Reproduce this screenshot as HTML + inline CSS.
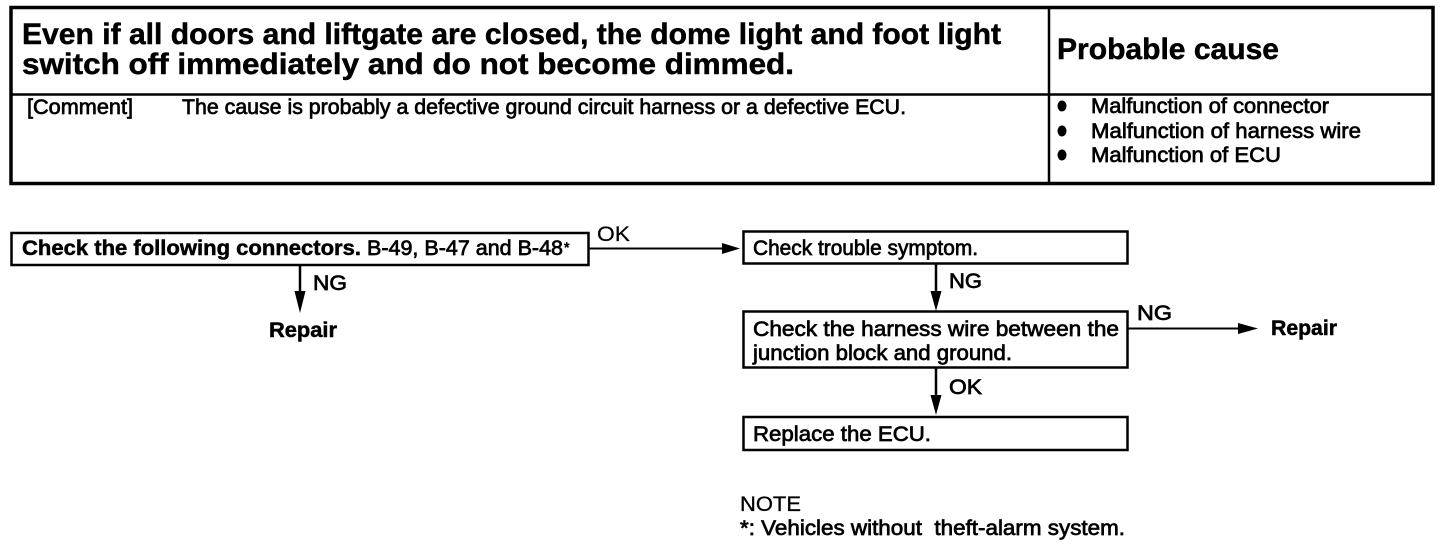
<!DOCTYPE html>
<html><head><meta charset="utf-8"><style>
html,body{margin:0;padding:0;background:#fff;width:1456px;height:546px;overflow:hidden}
svg{display:block}
text{font-family:"Liberation Sans",sans-serif;fill:#000;stroke:#000;stroke-width:.7px;white-space:pre}
.b{font-weight:bold;stroke-width:.5px}
.t{font-size:30px;stroke-width:.5px}
.s{font-size:21px}
</style></head><body>
<svg width="1456" height="546" viewBox="0 0 1456 546" xmlns="http://www.w3.org/2000/svg">
<rect x="11" y="7.5" width="1422" height="176" fill="none" stroke="#000" stroke-width="3.5"/>
<line x1="1049" y1="8" x2="1049" y2="183" stroke="#000" stroke-width="2.5"/>
<line x1="11" y1="94.5" x2="1433" y2="94.5" stroke="#000" stroke-width="2.5"/>
<text class="b t" x="22" y="44" textLength="979" lengthAdjust="spacingAndGlyphs">Even if all doors and liftgate are closed, the dome light and foot light</text>
<text class="b t" x="22" y="74" textLength="772" lengthAdjust="spacingAndGlyphs">switch off immediately and do not become dimmed.</text>
<text class="b t" x="1057" y="59" textLength="222" lengthAdjust="spacingAndGlyphs">Probable cause</text>
<text class="s" x="27" y="114" textLength="106" lengthAdjust="spacingAndGlyphs">[Comment]</text>
<text class="s" x="182" y="114" textLength="724" lengthAdjust="spacingAndGlyphs">The cause is probably a defective ground circuit harness or a defective ECU.</text>
<ellipse cx="1062" cy="106" rx="4.5" ry="5.5"/><ellipse cx="1062" cy="131" rx="4.5" ry="5.5"/><ellipse cx="1062" cy="155" rx="4.5" ry="5.5"/>
<text class="s" x="1091" y="113" textLength="238" lengthAdjust="spacingAndGlyphs">Malfunction of connector</text>
<text class="s" x="1091" y="138" textLength="270" lengthAdjust="spacingAndGlyphs">Malfunction of harness wire</text>
<text class="s" x="1091" y="162" textLength="190" lengthAdjust="spacingAndGlyphs">Malfunction of ECU</text>

<rect x="11.5" y="233" width="577" height="32" fill="#fff" stroke="#000" stroke-width="2.5"/>
<text class="b s" x="22" y="255" textLength="339" lengthAdjust="spacingAndGlyphs">Check the following connectors.</text>
<text class="s" x="367" y="255" textLength="196" lengthAdjust="spacingAndGlyphs">B-49, B-47 and B-48</text>
<text class="s" x="564" y="252" style="font-size:14px">*</text>
<line x1="589" y1="248.5" x2="726" y2="248.5" stroke="#000" stroke-width="2"/>
<polygon points="722,243 722,254 740,248.5"/>
<text class="s" x="597" y="241" textLength="33" lengthAdjust="spacingAndGlyphs" style="stroke-width:.2px">OK</text>
<line x1="300" y1="265" x2="300" y2="295" stroke="#000" stroke-width="2.5"/>
<polygon points="294.5,291 305.5,291 300,313"/>
<text class="s" x="313" y="290" textLength="34" lengthAdjust="spacingAndGlyphs">NG</text>
<text class="b s" x="269" y="337" textLength="68" lengthAdjust="spacingAndGlyphs">Repair</text>

<rect x="743.5" y="231.5" width="384" height="32" fill="#fff" stroke="#000" stroke-width="2.5"/>
<text class="s" x="753" y="255" textLength="225" lengthAdjust="spacingAndGlyphs">Check trouble symptom.</text>
<line x1="936" y1="264" x2="936" y2="295" stroke="#000" stroke-width="2.5"/>
<polygon points="930.5,291 941.5,291 936,311"/>
<text class="s" x="949" y="288" textLength="33" lengthAdjust="spacingAndGlyphs">NG</text>

<rect x="743.5" y="311.5" width="384" height="56" fill="#fff" stroke="#000" stroke-width="2.5"/>
<text class="s" x="753" y="336" textLength="366" lengthAdjust="spacingAndGlyphs">Check the harness wire between the</text>
<text class="s" x="753" y="360" textLength="259" lengthAdjust="spacingAndGlyphs">junction block and ground.</text>
<line x1="1128" y1="328.5" x2="1245" y2="328.5" stroke="#000" stroke-width="2"/>
<polygon points="1238,323 1238,334 1258,328.5"/>
<text class="s" x="1137" y="320" textLength="35" lengthAdjust="spacingAndGlyphs">NG</text>
<text class="b s" x="1271" y="335" textLength="66" lengthAdjust="spacingAndGlyphs">Repair</text>
<line x1="936" y1="368" x2="936" y2="400" stroke="#000" stroke-width="2.5"/>
<polygon points="930.5,395 941.5,395 936,415"/>
<text class="s" x="949" y="394" textLength="33" lengthAdjust="spacingAndGlyphs">OK</text>

<rect x="743.5" y="417" width="384" height="33" fill="#fff" stroke="#000" stroke-width="2.5"/>
<text class="s" x="753" y="441" textLength="178" lengthAdjust="spacingAndGlyphs">Replace the ECU.</text>

<text class="s" x="740" y="511" textLength="61" lengthAdjust="spacingAndGlyphs" style="stroke-width:.3px">NOTE</text>
<text class="s" x="740" y="535" textLength="385" lengthAdjust="spacingAndGlyphs">*: Vehicles without  theft-alarm system.</text>
</svg>
</body></html>
